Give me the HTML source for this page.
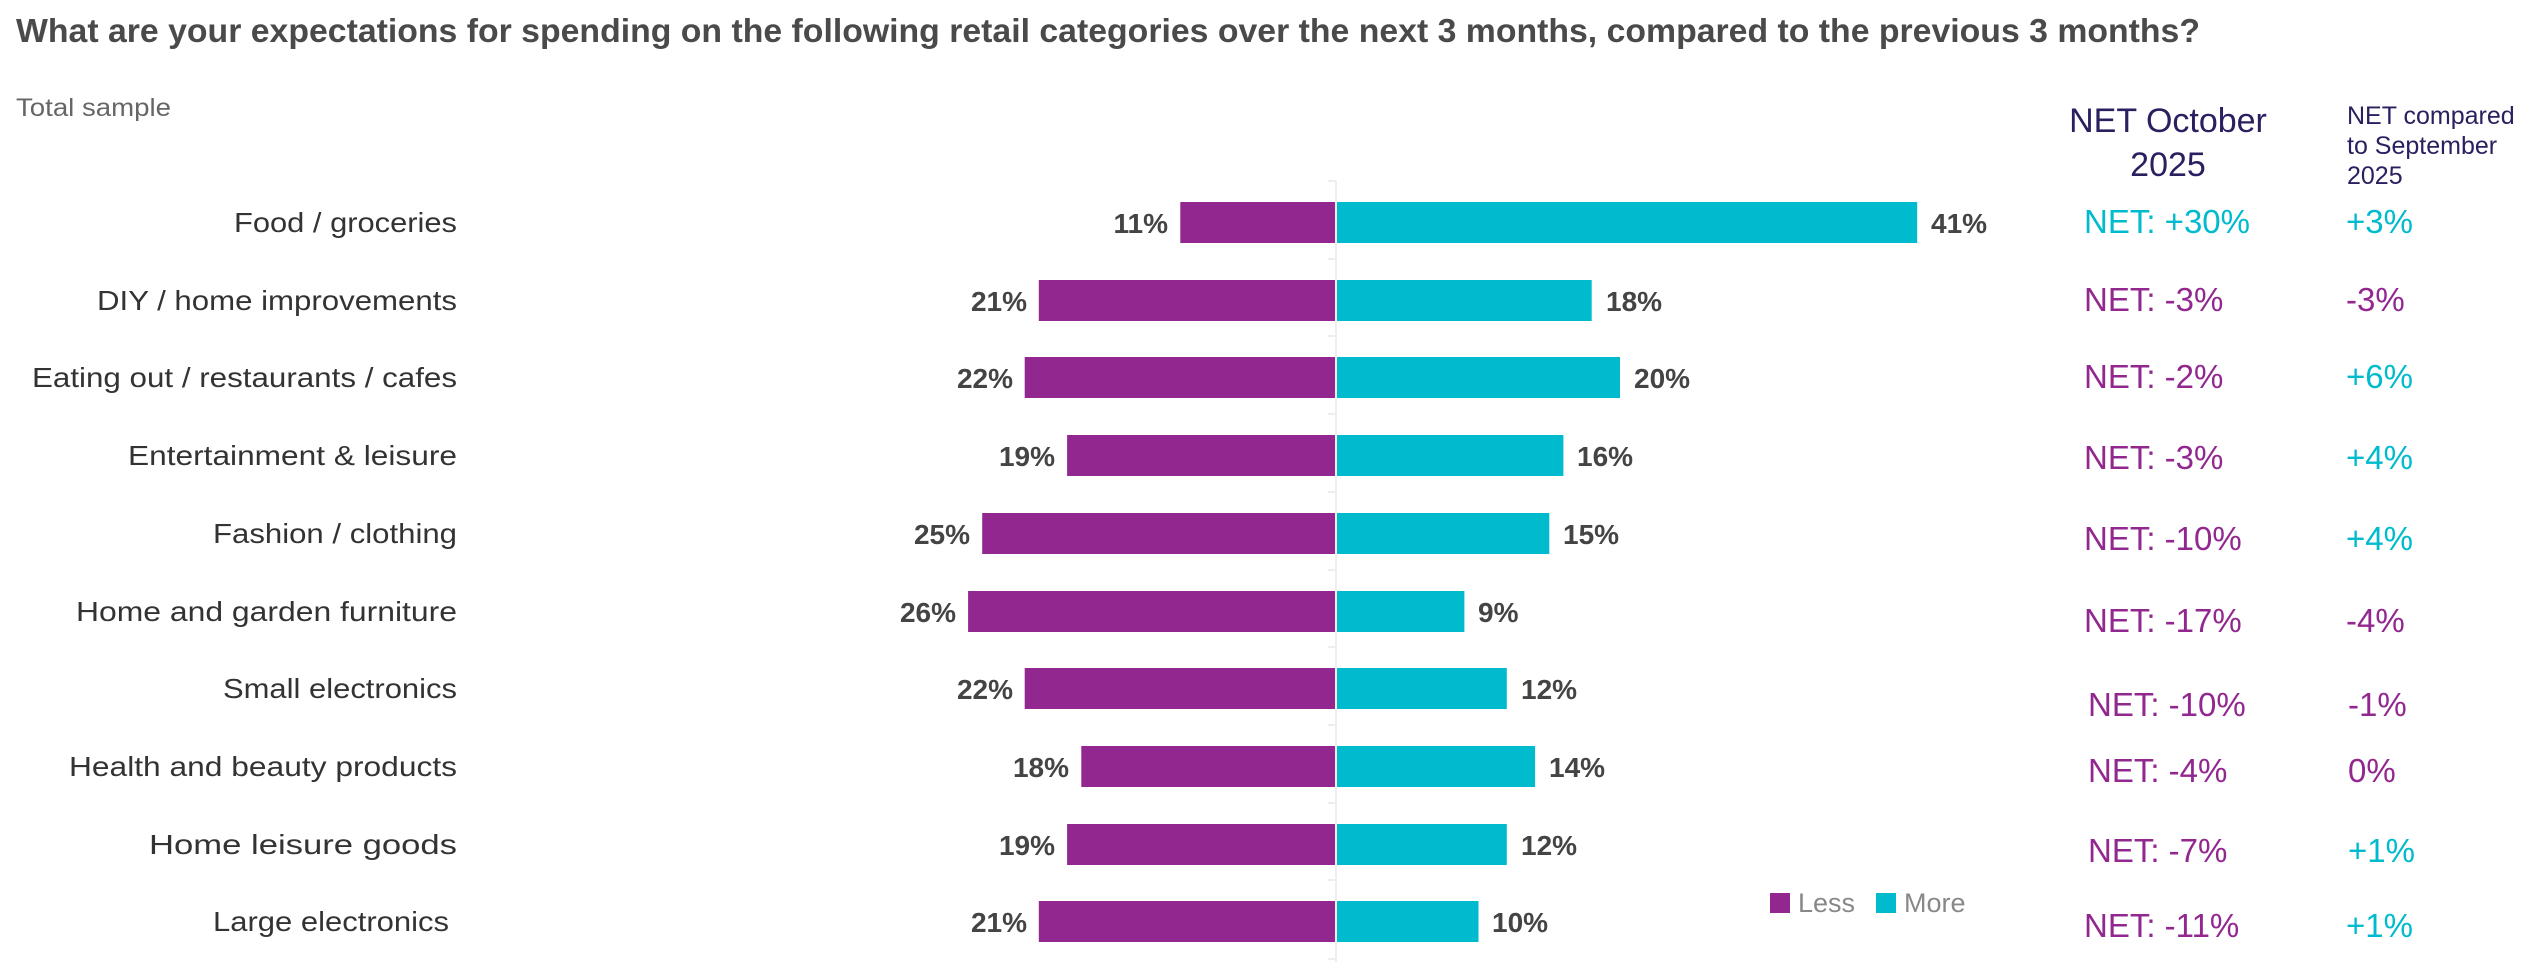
<!DOCTYPE html>
<html><head><meta charset="utf-8"><style>
html,body{margin:0;padding:0;background:#fff;}
svg{display:block;font-family:"Liberation Sans",sans-serif;}
</style></head><body>
<svg width="2532" height="972" viewBox="0 0 2532 972" xmlns="http://www.w3.org/2000/svg">
<text x="16" y="42" font-size="33" font-weight="bold" fill="#4a4a4a" textLength="2184" lengthAdjust="spacingAndGlyphs">What are your expectations for spending on the following retail categories over the next 3 months, compared to the previous 3 months?</text>
<text x="16" y="116" font-size="25" fill="#666" textLength="155" lengthAdjust="spacingAndGlyphs">Total sample</text>
<text x="2168" y="132" font-size="34" fill="#2a2060" text-anchor="middle">NET October</text>
<text x="2168" y="176" font-size="34" fill="#2a2060" text-anchor="middle">2025</text>
<text x="2347" y="124" font-size="25" fill="#2a2060">NET compared</text>
<text x="2347" y="154" font-size="25" fill="#2a2060">to September</text>
<text x="2347" y="184" font-size="25" fill="#2a2060">2025</text>
<line x1="1336" y1="181" x2="1336" y2="962" stroke="#eeeeee" stroke-width="2"/>
<g stroke="#eeeeee" stroke-width="2">
<line x1="1328" y1="181" x2="1336" y2="181"/><line x1="1328" y1="259" x2="1336" y2="259"/><line x1="1328" y1="336" x2="1336" y2="336"/><line x1="1328" y1="414" x2="1336" y2="414"/><line x1="1328" y1="492" x2="1336" y2="492"/><line x1="1328" y1="570" x2="1336" y2="570"/><line x1="1328" y1="647" x2="1336" y2="647"/><line x1="1328" y1="725" x2="1336" y2="725"/><line x1="1328" y1="803" x2="1336" y2="803"/><line x1="1328" y1="880" x2="1336" y2="880"/><line x1="1328" y1="959" x2="1336" y2="959"/>
</g>
<g font-size="28" fill="#333" text-anchor="end">
<text x="457" y="232" textLength="223" lengthAdjust="spacingAndGlyphs">Food / groceries</text>
<text x="457" y="310" textLength="360" lengthAdjust="spacingAndGlyphs">DIY / home improvements</text>
<text x="457" y="387" textLength="425" lengthAdjust="spacingAndGlyphs">Eating out / restaurants / cafes</text>
<text x="457" y="465" textLength="329" lengthAdjust="spacingAndGlyphs">Entertainment &amp; leisure</text>
<text x="457" y="543" textLength="244" lengthAdjust="spacingAndGlyphs">Fashion / clothing</text>
<text x="457" y="621" textLength="381" lengthAdjust="spacingAndGlyphs">Home and garden furniture</text>
<text x="457" y="698" textLength="234" lengthAdjust="spacingAndGlyphs">Small electronics</text>
<text x="457" y="776" textLength="388" lengthAdjust="spacingAndGlyphs">Health and beauty products</text>
<text x="457" y="854" textLength="308" lengthAdjust="spacingAndGlyphs">Home leisure goods</text>
<text x="449" y="931" textLength="236" lengthAdjust="spacingAndGlyphs">Large electronics</text>
</g>
<g fill="#92278f">
<rect x="1180.3" y="202" width="154.7" height="41"/>
<rect x="1038.8" y="280" width="296.2" height="41"/>
<rect x="1024.7" y="357" width="310.3" height="41"/>
<rect x="1067.1" y="435" width="267.9" height="41"/>
<rect x="982.2" y="513" width="352.8" height="41"/>
<rect x="968.1" y="591" width="366.9" height="41"/>
<rect x="1024.7" y="668" width="310.3" height="41"/>
<rect x="1081.3" y="746" width="253.7" height="41"/>
<rect x="1067.1" y="824" width="267.9" height="41"/>
<rect x="1038.8" y="901" width="296.2" height="41"/>
</g>
<g fill="#00bbcd">
<rect x="1337" y="202" width="580.2" height="41"/>
<rect x="1337" y="280" width="254.7" height="41"/>
<rect x="1337" y="357" width="283" height="41"/>
<rect x="1337" y="435" width="226.4" height="41"/>
<rect x="1337" y="513" width="212.3" height="41"/>
<rect x="1337" y="591" width="127.4" height="41"/>
<rect x="1337" y="668" width="169.8" height="41"/>
<rect x="1337" y="746" width="198.1" height="41"/>
<rect x="1337" y="824" width="169.8" height="41"/>
<rect x="1337" y="901" width="141.5" height="41"/>
</g>
<g font-size="28" font-weight="bold" fill="#444" text-anchor="end">
<text x="1168" y="233">11%</text><text x="1027" y="311">21%</text><text x="1013" y="388">22%</text><text x="1055" y="466">19%</text><text x="970" y="544">25%</text><text x="956" y="622">26%</text><text x="1013" y="699">22%</text><text x="1069" y="777">18%</text><text x="1055" y="855">19%</text><text x="1027" y="932">21%</text>
</g>
<g font-size="28" font-weight="bold" fill="#444">
<text x="1931" y="233">41%</text><text x="1606" y="311">18%</text><text x="1634" y="388">20%</text><text x="1577" y="466">16%</text><text x="1563" y="544">15%</text><text x="1478" y="622">9%</text><text x="1521" y="699">12%</text><text x="1549" y="777">14%</text><text x="1521" y="855">12%</text><text x="1492" y="932">10%</text>
</g>
<g font-size="33">
<text x="2084" y="233" fill="#00bbcd">NET: +30%</text>
<text x="2084" y="311" fill="#92278f">NET: -3%</text>
<text x="2084" y="388" fill="#92278f">NET: -2%</text>
<text x="2084" y="469" fill="#92278f">NET: -3%</text>
<text x="2084" y="550" fill="#92278f">NET: -10%</text>
<text x="2084" y="632" fill="#92278f">NET: -17%</text>
<text x="2088" y="716" fill="#92278f">NET: -10%</text>
<text x="2088" y="782" fill="#92278f">NET: -4%</text>
<text x="2088" y="862" fill="#92278f">NET: -7%</text>
<text x="2084" y="937" fill="#92278f">NET: -11%</text>
<text x="2346" y="233" fill="#00bbcd">+3%</text>
<text x="2346" y="311" fill="#92278f">-3%</text>
<text x="2346" y="388" fill="#00bbcd">+6%</text>
<text x="2346" y="469" fill="#00bbcd">+4%</text>
<text x="2346" y="550" fill="#00bbcd">+4%</text>
<text x="2346" y="632" fill="#92278f">-4%</text>
<text x="2348" y="716" fill="#92278f">-1%</text>
<text x="2348" y="782" fill="#92278f">0%</text>
<text x="2348" y="862" fill="#00bbcd">+1%</text>
<text x="2346" y="937" fill="#00bbcd">+1%</text>
</g>
<rect x="1770" y="893" width="20" height="20" fill="#92278f"/>
<text x="1798" y="912" font-size="27" fill="#888">Less</text>
<rect x="1876" y="893" width="20" height="20" fill="#00bbcd"/>
<text x="1904" y="912" font-size="27" fill="#888">More</text>
</svg>
</body></html>
